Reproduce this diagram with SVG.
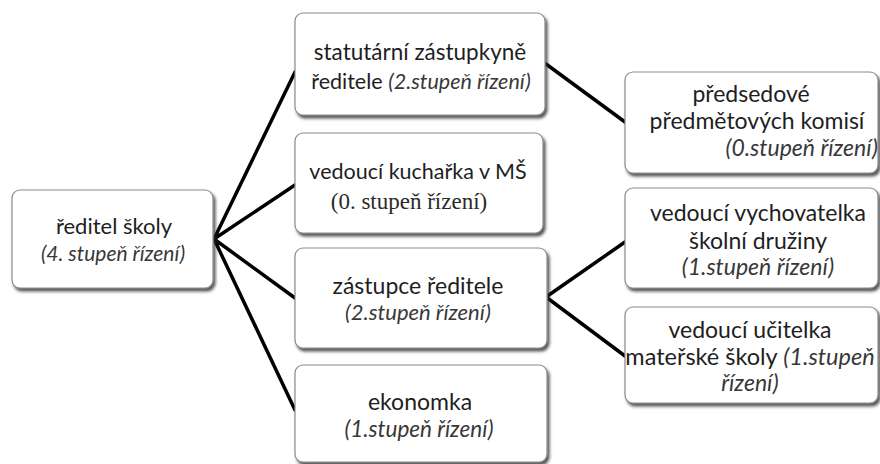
<svg xmlns="http://www.w3.org/2000/svg" width="880" height="464" viewBox="0 0 880 464">
<defs>
<filter id="sh" x="-10%" y="-10%" width="130%" height="140%">
<feDropShadow dx="2" dy="3" stdDeviation="1.5" flood-color="#2a2a2a" flood-opacity="0.8"/>
</filter>
<style>
.box{fill:#fff;stroke:#8c8c8c;stroke-width:1.2;filter:url(#sh)}
.t{font-family:Lato,"Open Sans","Liberation Sans",sans-serif;font-size:23px;fill:#1e1e1e;text-anchor:middle}
.i{font-style:italic;fill:#383838}
.s{font-family:"Liberation Serif",serif;font-size:23px;fill:#2a2a2a}
.c{stroke:#000;stroke-width:3.5;fill:none;stroke-linecap:round}
</style>
</defs>
<rect width="880" height="464" fill="#fff"/>
<g id="connectors">
<path class="c" d="M214 239 L295 72 M214 239 L295 185 M214 239 L295 298 M214 239 L295 410"/>
<path class="c" d="M546 64 L625 122"/>
<path class="c" d="M546 297 L625 242 M546 297 L625 356"/>
</g>
<g id="reditel">
<rect class="box" x="12" y="190" width="201" height="98" rx="8"/>
<text class="t" x="114" y="234" style="font-size:22px">ředitel školy</text>
<text class="t i" x="113" y="261" style="font-size:21px">(4. stupeň řízení)</text>
</g>
<g id="statutarni">
<rect class="box" x="295" y="13" width="250" height="102" rx="8"/>
<text class="t" x="420" y="60" style="font-size:22.5px">statutární zástupkyně</text>
<text class="t" x="421" y="89" style="font-size:21.5px">ředitele <tspan class="i">(2.stupeň řízení)</tspan></text>
</g>
<g id="kucharka">
<rect class="box" x="295" y="133" width="248" height="100" rx="8"/>
<text class="t" x="418" y="179" style="font-size:21.5px">vedoucí kuchařka v MŠ</text>
<text class="s" x="409" y="209" text-anchor="middle">(0. stupeň řízení)</text>
</g>
<g id="zastupce">
<rect class="box" x="295" y="248" width="252" height="100" rx="8"/>
<text class="t" x="418" y="294">zástupce ředitele</text>
<text class="t i" x="418" y="320" style="font-size:22px">(2.stupeň řízení)</text>
</g>
<g id="ekonomka">
<rect class="box" x="295" y="365" width="252" height="97" rx="8"/>
<text class="t" x="420" y="410">ekonomka</text>
<text class="t i" x="419" y="437" style="font-size:22.5px">(1.stupeň řízení)</text>
</g>
<g id="predsedove">
<rect class="box" x="625" y="72" width="253" height="101" rx="8"/>
<text class="t" x="751" y="102">předsedové</text>
<text class="t" x="757" y="129">předmětových komisí</text>
<text class="t i" x="878" y="156" style="text-anchor:end">(0.stupeň řízení)</text>
</g>
<g id="vychovatelka">
<rect class="box" x="625" y="188" width="253" height="100" rx="8"/>
<text class="t" x="758" y="221">vedoucí vychovatelka</text>
<text class="t" x="758" y="249">školní družiny</text>
<text class="t i" x="758" y="275">(1.stupeň řízení)</text>
</g>
<g id="ucitelka">
<rect class="box" x="625" y="307" width="253" height="96" rx="8"/>
<text class="t" x="750" y="338">vedoucí učitelka</text>
<text class="t" x="750" y="365" style="font-size:23.5px">mateřské školy <tspan class="i">(1.stupeň</tspan></text>
<text class="t i" x="750" y="391">řízení)</text>
</g>
</svg>
